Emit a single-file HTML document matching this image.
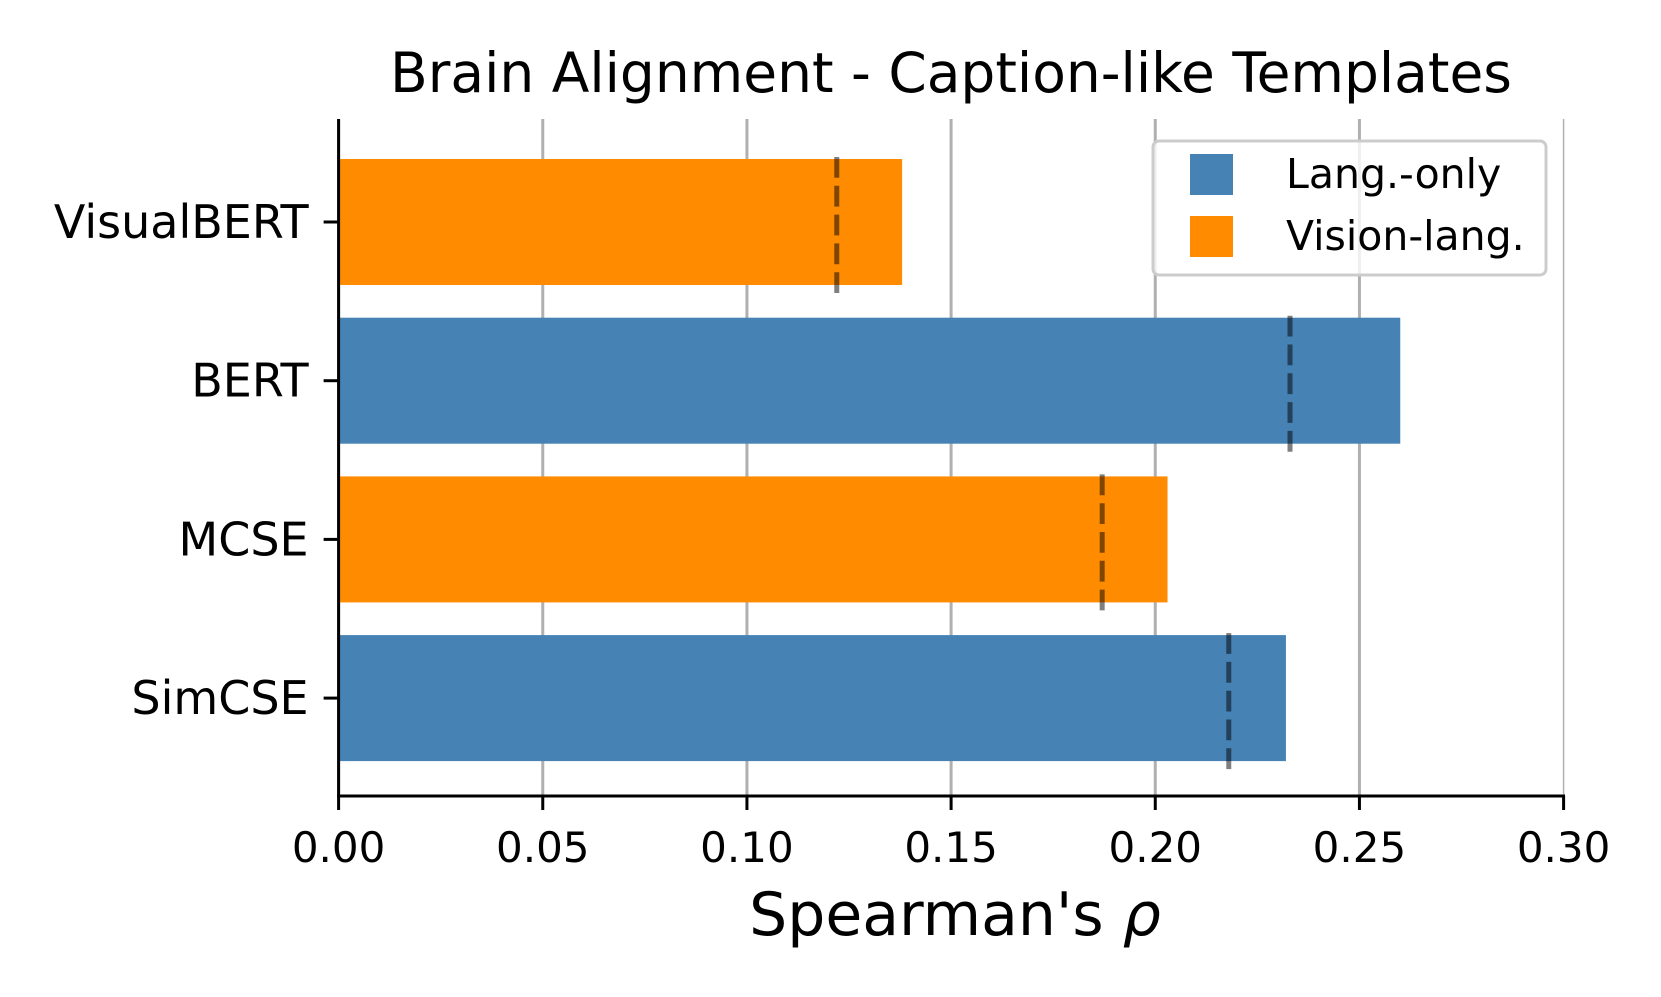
<!DOCTYPE html>
<html><head><meta charset="utf-8"><style>body{margin:0;background:#fff}svg{display:block;font-family:"DejaVu Sans","Liberation Sans",sans-serif}</style></head>
<body>
<svg id="c" width="1661" height="997"></svg>
<script>
const categories = ["VisualBERT","BERT","MCSE","SimCSE"];
const values = [0.138,0.260,0.203,0.232];
const baselines = [0.122,0.233,0.187,0.218];
const kinds = ["vl","lang","vl","lang"];
const ticks = [0,0.05,0.10,0.15,0.20,0.25,0.30];
const tickLabels = ["0.00","0.05","0.10","0.15","0.20","0.25","0.30"];
const NS="http://www.w3.org/2000/svg", svg=document.getElementById('c');
const X0=338.6, XS=1225/0.3, Ytop=119, Ybot=796;
const x=v=>X0+v*XS;
const yc=i=>222+i*158.7;
const colors={lang:"#4682b4",vl:"#ff8c00"};
function mk(t,a,p){const e=document.createElementNS(NS,t);for(const k in a)e.setAttribute(k,a[k]);(p||svg).appendChild(e);return e;}
ticks.forEach((t,i)=>{
 const g=mk('line',{x1:x(t),x2:x(t),y1:Ytop,y2:Ybot,stroke:"#b0b0b0","stroke-width":i==6?1.5:3});
 
 
 const tk=mk('line',{x1:x(t),x2:x(t),y1:Ybot,y2:Ybot+14,stroke:"#000","stroke-width":3});
 
 
 const tl=mk('text',{x:x(t),y:Ybot+66,"text-anchor":"middle","font-size":42});
 tl.textContent=tickLabels[i];
 
 
});
categories.forEach((c,i)=>{
 const b=mk('rect',{x:X0,y:yc(i)-63,width:x(values[i])-X0,height:126,fill:colors[kinds[i]]});
 
 
 const d=mk('line',{x1:x(baselines[i]),x2:x(baselines[i]),y1:yc(i)-65,y2:yc(i)+71,stroke:"#000","stroke-opacity":0.5,"stroke-width":5,"stroke-dasharray":"20.8,8"});
 
 
 const tk=mk('line',{x1:X0-15,x2:X0,y1:yc(i),y2:yc(i),stroke:"#000","stroke-width":3});
 
 
 const tl=mk('text',{x:X0-30,y:yc(i)+16,"text-anchor":"end","font-size":46});
 tl.textContent=c;
 
 
});
</script>
<script>
(function(){
const NS="http://www.w3.org/2000/svg",svg=document.getElementById('c');
function mk(t,a){const e=document.createElementNS(NS,t);for(const k in a)e.setAttribute(k,a[k]);svg.appendChild(e);return e;}
let e=mk('line',{x1:338.6,x2:338.6,y1:119,y2:797.5,stroke:"#000","stroke-width":3});


e=mk('line',{x1:337,x2:1565,y1:796,y2:796,stroke:"#000","stroke-width":3});


e=mk('text',{x:951,y:92,"text-anchor":"middle","font-size":55});
e.textContent="Brain Alignment - Caption-like Templates";


e=mk('text',{x:955,y:935,"text-anchor":"middle","font-size":60});
e.innerHTML='Spearman\'s <tspan font-style="italic">ρ</tspan>';


e=mk('rect',{x:1159-6,y:141,width:393,height:134,rx:6,fill:"#fff","fill-opacity":0.8,stroke:"#ccc","stroke-width":3});


[["Lang.-only","#4682b4",154],["Vision-lang.","#ff8c00",216]].forEach(([t,c,y])=>{
 let r=mk('rect',{x:1190,y:y,width:43,height:41,fill:c});
 
 
 let tx=mk('text',{x:1286,y:y+34,"font-size":41});
 tx.textContent=t;
 
 
});
})();
</script>
</body></html>
